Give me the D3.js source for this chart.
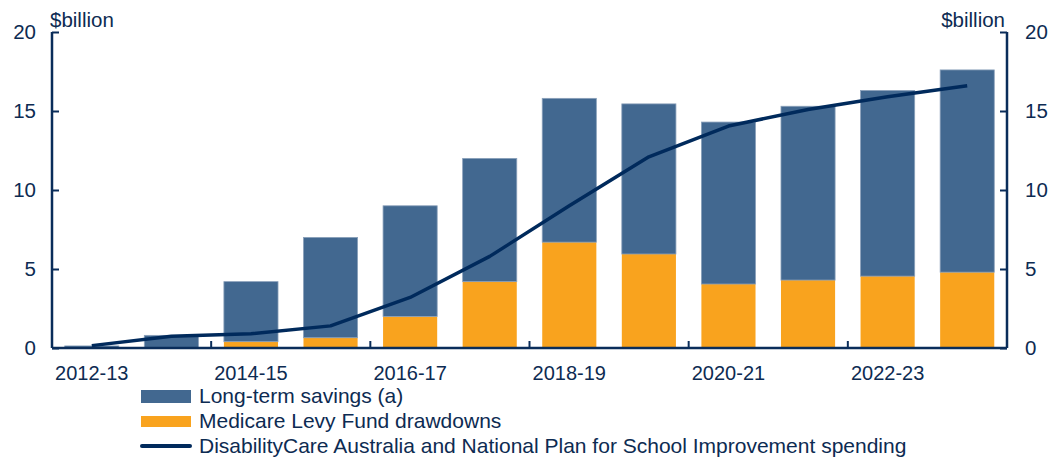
<!DOCTYPE html>
<html><head><meta charset="utf-8">
<script src="https://cdn.jsdelivr.net/npm/d3@7"></script>
<style>body{margin:0;background:#fff}svg{display:block}text{font-family:"Liberation Sans",Arial,sans-serif;fill:#0d2b52}</style>
</head><body><svg id="c" width="1053" height="457"></svg>
<script>
const categories = ["2012-13","2013-14","2014-15","2015-16","2016-17","2017-18","2018-19","2019-20","2020-21","2021-22","2022-23","2023-24"];
const medicare = [0, 0, 0.4, 0.65, 2.0, 4.2, 6.7, 5.95, 4.05, 4.3, 4.55, 4.8];
const longTerm = [0.13, 0.8, 3.8, 6.35, 7.0, 7.8, 9.1, 9.5, 10.25, 11.0, 11.75, 12.8];
const spending = [0.15, 0.75, 0.9, 1.4, 3.2, 5.8, 9.0, 12.1, 14.05, 15.1, 15.9, 16.6];
const yTicks = [0, 5, 10, 15, 20];
const xLabels = ["2012-13","2014-15","2016-17","2018-19","2020-21","2022-23"];
const legendLabels = ["Long-term savings (a)","Medicare Levy Fund drawdowns","DisabilityCare Australia and National Plan for School Improvement spending"];

const svg = d3.select("#c");
const L = 52, R = 1007, T = 32, B = 348;
const navy = "#0a2d5a", blue = "#426890", orange = "#f9a31e";
const x = d3.scaleBand().domain(categories).range([L, R]).paddingInner(0.32).paddingOuter(0.16);
const y = d3.scaleLinear().domain([0, 20]).range([B, T]);

// bars
const g = svg.append("g");
categories.forEach((c, i) => {
  g.append("rect").attr("x", x(c)).attr("width", x.bandwidth())
    .attr("y", y(medicare[i])).attr("height", y(0) - y(medicare[i]))
    .attr("fill", orange);
  g.append("rect").attr("x", x(c)).attr("width", x.bandwidth())
    .attr("y", y(medicare[i] + longTerm[i])).attr("height", y(medicare[i]) - y(medicare[i] + longTerm[i]))
    .attr("fill", blue).attr("stroke", "#8aa0ba").attr("stroke-width", 0.8);
});

// line
const line = d3.line().x((d, i) => x(categories[i]) + x.bandwidth() / 2).y(d => y(d));
svg.append("path").datum(spending).attr("d", line).attr("fill", "none")
  .attr("stroke", "#002a5c").attr("stroke-width", 3.5).attr("stroke-linejoin", "round");

// axes
const yl = d3.axisLeft(y).tickValues(yTicks).tickSize(-7).tickPadding(16);
const yr = d3.axisRight(y).tickValues(yTicks).tickSize(-7).tickPadding(18);
const styleAxis = a => {
  a.select(".domain").remove();
  a.selectAll("line").attr("stroke", navy).attr("stroke-width", 2);
  a.selectAll("text").style("font-size", "20.5px").attr("fill", "#0d2b52");
};
svg.append("g").attr("transform", `translate(${L},0)`).call(yl).call(styleAxis);
svg.append("g").attr("transform", `translate(${R},0)`).call(yr).call(styleAxis);
svg.append("line").attr("x1", L).attr("x2", L).attr("y1", T).attr("y2", B).attr("stroke", navy).attr("stroke-width", 2.5);
svg.append("line").attr("x1", R).attr("x2", R).attr("y1", T).attr("y2", B).attr("stroke", navy).attr("stroke-width", 2.5);
svg.append("line").attr("x1", L).attr("x2", R).attr("y1", B).attr("y2", B).attr("stroke", navy).attr("stroke-width", 2.5);

// x ticks at every second boundary
categories.forEach((c, i) => {
  if (i > 0 && i % 2 === 0) {
    const bx = x(c) - x.step() * x.paddingInner() / 2;
    svg.append("line").attr("x1", bx).attr("x2", bx).attr("y1", B).attr("y2", B - 7).attr("stroke", navy).attr("stroke-width", 2);
  }
});
xLabels.forEach(lbl => {
  svg.append("text").attr("x", x(lbl) + x.bandwidth() / 2).attr("y", 380)
    .attr("text-anchor", "middle").style("font-size", "20px").text(lbl);
});

// unit labels
svg.append("text").attr("x", 50).attr("y", 27).style("font-size", "20.5px").text("$billion");
svg.append("text").attr("x", 1005).attr("y", 27).attr("text-anchor", "end").style("font-size", "20.5px").text("$billion");

// legend
const lg = svg.append("g");
lg.append("rect").attr("x", 141).attr("y", 390).attr("width", 50).attr("height", 13).attr("fill", blue);
lg.append("rect").attr("x", 141).attr("y", 416).attr("width", 50).attr("height", 11).attr("fill", orange);
lg.append("line").attr("x1", 142).attr("x2", 190).attr("y1", 446).attr("y2", 446).attr("stroke", "#002a5c").attr("stroke-width", 4).attr("stroke-linecap", "round");
legendLabels.forEach((t, i) => {
  lg.append("text").attr("x", 199).attr("y", 403 + i * 25).style("font-size", "21px").text(t);
});
</script></body></html>
